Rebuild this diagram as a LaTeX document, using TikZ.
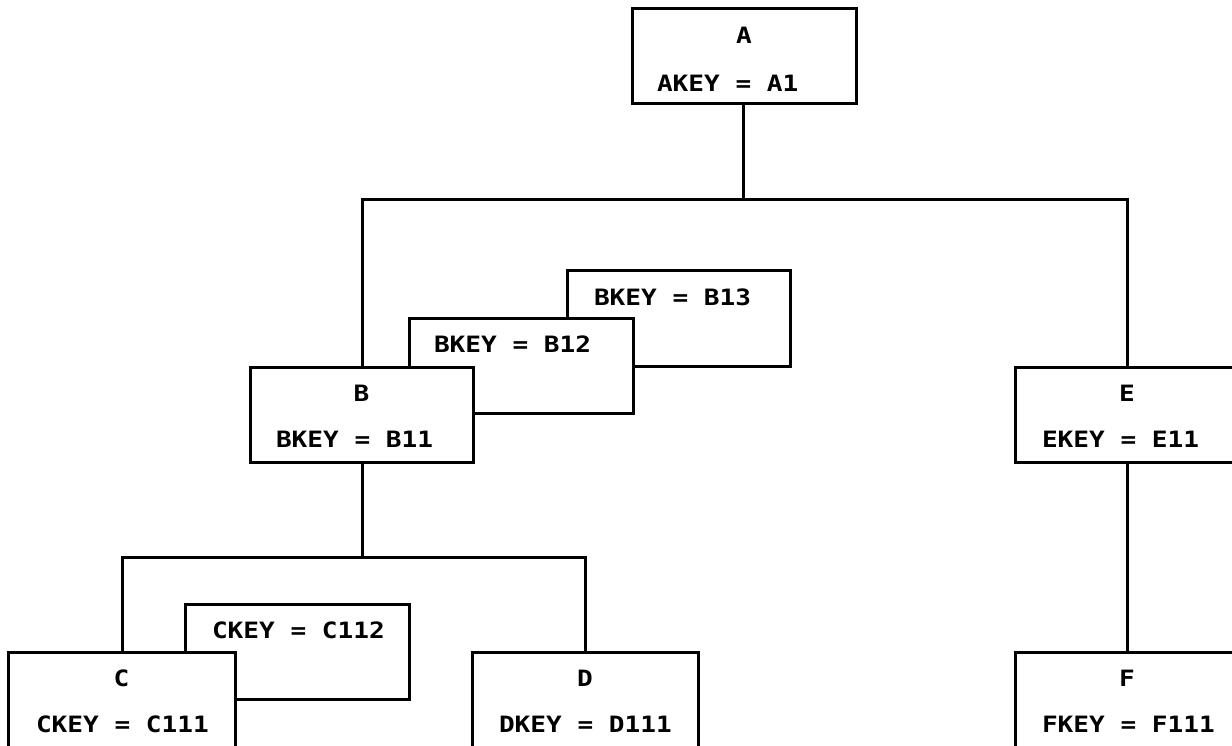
\documentclass[tikz,border=0pt]{standalone}
\usepackage{fontspec}
\newfontfamily\monofnt[FakeStretch=1.16]{DejaVu Sans Mono}
\begin{document}
\begin{tikzpicture}[x=1pt,y=-1pt,
  line width=3pt,
  boxnode/.style={draw=black, fill=white, line width=3pt, rectangle, anchor=north west, inner sep=0pt, outer sep=0pt, minimum width=#1, minimum height=95pt},
  boxnode/.default=224pt,
  openbox/.style={draw=none, rectangle, anchor=north west, inner sep=0pt, outer sep=0pt, minimum width=#1, minimum height=0pt},
  txt/.style={inner sep=0pt, outer sep=0pt, font=\monofnt\bfseries\fontsize{22.5}{22.5}\selectfont, text=black},
  keytxt/.style={txt, anchor=west},
  conn/.style={draw=black, line width=3pt, line cap=rect}]
\useasboundingbox (0,0) rectangle (1232,746);
\fill[white] (0,0) rectangle (1232,746);

% connector coordinates
\coordinate (bar1L) at (362,200);
\coordinate (bar1R) at (1127,200);
\coordinate (bar1M) at (743,200);
\coordinate (bar2L) at (122,557);
\coordinate (bar2R) at (585,557);
\coordinate (bar2M) at (362,557);

% top box A
\node[boxnode=224pt] (A) at (632,9) {};
\node[txt] (At) at ([yshift=-26pt]A.north) {A};
\node[keytxt] (Ak) at ([xshift=25pt,yshift=-74pt]A.north west) {AKEY = A1};

% connectors (drawn before lower boxes)
\draw[conn] (A.south -| bar1M) -- (bar1M);
\draw[conn] (bar1L) -- (bar1R);
\draw[conn] (bar1L) -- (362,367);
\draw[conn] (bar1R) -- (1127,367);

% B segments (back to front)
\node[boxnode=223pt] (B13) at (567,271) {};
\node[keytxt] (B13k) at ([xshift=27pt,yshift=-26pt]B13.north west) {BKEY = B13};
\node[boxnode=224pt] (B12) at (409,318) {};
\node[keytxt] (B12k) at ([xshift=25pt,yshift=-26pt]B12.north west) {BKEY = B12};
\node[boxnode=223pt] (B) at (250,367) {};
\node[txt] (Bt) at ([yshift=-26pt]B.north) {B};
\node[keytxt] (Bk) at ([xshift=26pt,yshift=-72pt]B.north west) {BKEY = B11};

% E box (extends past right edge)
\node[boxnode=224pt] (E) at (1015,367) {};
\node[txt] (Et) at ([yshift=-26pt]E.north) {E};
\node[keytxt] (Ek) at ([xshift=27pt,yshift=-72pt]E.north west) {EKEY = E11};

% lower connectors
\draw[conn] (B.south -| bar2M) -- (bar2M);
\draw[conn] (bar2L) -- (bar2R);
\draw[conn] (bar2L) -- (122,652);
\draw[conn] (bar2R) -- (585,652);
\draw[conn] (E.south) -- (1127,652);

% C segments
\node[boxnode=224pt] (C112) at (185,604) {};
\node[keytxt] (C112k) at ([xshift=27pt,yshift=-26pt]C112.north west) {CKEY = C112};

% bottom boxes, open at the bottom (cut by the page edge)
\draw[conn, fill=white] (8,760) -- (8,652) -- (235,652) -- (235,760);
\node[openbox=227pt] (C) at (8,652) {};
\node[txt] (Ct) at (121.5,678) {C};
\node[keytxt] (Ck) at (36,724) {CKEY = C111};

\draw[conn, fill=white] (472,760) -- (472,652) -- (698,652) -- (698,760);
\node[openbox=226pt] (D) at (472,652) {};
\node[txt] (Dt) at (585,678) {D};
\node[keytxt] (Dk) at (499,724) {DKEY = D111};

\draw[conn, fill=white] (1015,760) -- (1015,652) -- (1240,652) -- (1240,760);
\node[openbox=224pt] (F) at (1015,652) {};
\node[txt] (Ft) at (1127,678) {F};
\node[keytxt] (Fk) at (1042,724) {FKEY = F111};
\end{tikzpicture}
\end{document}
